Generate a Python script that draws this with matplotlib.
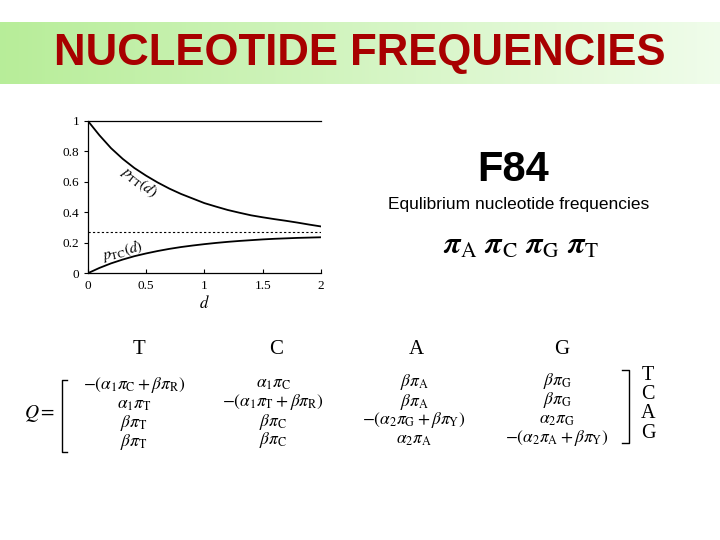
import numpy as np
import matplotlib
matplotlib.use("Agg")
import matplotlib.pyplot as plt

# values
d = [0.0, 0.1, 0.2, 0.3, 0.4, 0.5, 0.6, 0.7, 0.8, 0.9, 1.0,
     1.1, 1.2, 1.3, 1.4, 1.5, 1.6, 1.7, 1.8, 1.9, 2.0]
p_tt = [1.000, 0.905, 0.820, 0.750, 0.690, 0.640, 0.595, 0.555, 0.520, 0.490, 0.460,
        0.437, 0.415, 0.397, 0.380, 0.367, 0.355, 0.344, 0.332, 0.319, 0.307]
p_tc = [0.000, 0.035, 0.065, 0.090, 0.112, 0.130, 0.146, 0.160, 0.172, 0.182, 0.191,
        0.199, 0.206, 0.212, 0.217, 0.222, 0.226, 0.229, 0.232, 0.234, 0.236]
pi_t = 0.27
xticks = [0, 0.5, 1, 1.5, 2]
xticklabels = ["0", "0.5", "1", "1.5", "2"]
yticks = [0, 0.2, 0.4, 0.6, 0.8, 1]
yticklabels = ["0", "0.2", "0.4", "0.6", "0.8", "1"]

bases = ["T", "C", "A", "G"]
Q = [[r"$-(\alpha_1\pi_\mathrm{C} + \beta\pi_\mathrm{R})$", r"$\alpha_1\pi_\mathrm{C}$",
      r"$\beta\pi_\mathrm{A}$", r"$\beta\pi_\mathrm{G}$"],
     [r"$\alpha_1\pi_\mathrm{T}$", r"$-(\alpha_1\pi_\mathrm{T} + \beta\pi_\mathrm{R})$",
      r"$\beta\pi_\mathrm{A}$", r"$\beta\pi_\mathrm{G}$"],
     [r"$\beta\pi_\mathrm{T}$", r"$\beta\pi_\mathrm{C}$",
      r"$-(\alpha_2\pi_\mathrm{G} + \beta\pi_\mathrm{Y})$", r"$\alpha_2\pi_\mathrm{G}$"],
     [r"$\beta\pi_\mathrm{T}$", r"$\beta\pi_\mathrm{C}$",
      r"$\alpha_2\pi_\mathrm{A}$", r"$-(\alpha_2\pi_\mathrm{A} + \beta\pi_\mathrm{Y})$"]]

plt.rcParams['mathtext.fontset'] = 'stix'
serif = ['Liberation Serif', 'DejaVu Serif']
sans = ['Liberation Sans', 'DejaVu Sans']

fig = plt.figure(figsize=(7.2, 5.4), dpi=100)
fig.patch.set_facecolor('white')

# page layer in pixel coordinates
bg = fig.add_axes([0, 0, 1, 1])
bg.set_xlim(0, 720)
bg.set_ylim(540, 0)
bg.axis('off')

grad = np.linspace(0, 1, 256).reshape(1, -1)
left_c = np.array([0.72, 0.93, 0.60])
right_c = np.array([0.94, 0.99, 0.92])
img = left_c[None, None, :] * (1 - grad[..., None]) + right_c[None, None, :] * grad[..., None]
bg.imshow(img, extent=[0, 720, 84, 22], aspect='auto', zorder=0)

bg.text(360, 54, "NUCLEOTIDE FREQUENCIES", ha='center', va='center',
        fontsize=31.5, fontweight='bold', color='#a80000',
        family=['Liberation Sans Narrow'] + sans)

bg.text(513, 170, "F84", ha='center', va='center', fontsize=30,
        fontweight='bold', family=sans)
bg.text(519, 205, "Equlibrium nucleotide frequencies", ha='center', va='center',
        fontsize=12.5, family=sans)
bg.text(521, 245, r"$\boldsymbol{\pi}_\mathrm{A}\ \boldsymbol{\pi}_\mathrm{C}\ \boldsymbol{\pi}_\mathrm{G}\ \boldsymbol{\pi}_\mathrm{T}$",
        ha='center', va='center', fontsize=22)

# rate matrix (scan is slightly tilted, left side sits lower)
col_x = [134, 273, 414, 557]
col_dy = [3, 1.5, 0.5, -1]
row_y = [382, 401, 420, 439]
for j, b in enumerate(bases):
    bg.text([139, 276, 416, 562][j], 350, b, ha='center', va='center', fontsize=15,
            family=serif)
for i in range(4):
    for j in range(4):
        bg.text(col_x[j], row_y[i] + col_dy[j], Q[i][j], ha='center', va='center',
                fontsize=12.5)
    bg.text(648, 375 + 19.5 * i, bases[i], ha='center', va='center', fontsize=14.5,
            family=serif)
bg.text(40, 414, r"$Q =$", ha='center', va='center', fontsize=14)
bg.plot([67, 62, 62, 67], [380, 380, 452, 452], color='black', lw=1)
bg.plot([622, 629, 629, 622], [370, 370, 443, 443], color='black', lw=1)

# the chart
ax = fig.add_axes([0.1218, 0.4939, 0.324, 0.2826])
ax.plot(d, p_tt, color='black', lw=1.3)
ax.plot(d, p_tc, color='black', lw=1.3)
ax.axhline(pi_t, color='black', lw=0.8, ls=(0, (2, 2)))
ax.set_xlim(0, 2)
ax.set_ylim(0, 1)
ax.set_xticks(xticks)
ax.set_xticklabels(xticklabels, family=serif, fontsize=9.5)
ax.set_yticks(yticks)
ax.set_yticklabels(yticklabels, family=serif, fontsize=9.5)
ax.tick_params(axis='x', direction='in', length=3, width=0.8, pad=5)
ax.tick_params(axis='y', direction='out', length=3, width=0.8, pad=3)
ax.spines['right'].set_visible(False)
for s in ['left', 'bottom', 'top']:
    ax.spines[s].set_linewidth(0.9)
ax.set_xlabel(r"$d$", fontsize=12, labelpad=1)
ax.text(0.44, 0.6, r"$p_\mathrm{TT}(d)$", rotation=-38, ha='center', va='center',
        fontsize=11)
ax.text(0.3, 0.15, r"$p_\mathrm{TC}(d)$", rotation=14, ha='center', va='center',
        fontsize=11)

fig.savefig("out.png", dpi=100)
